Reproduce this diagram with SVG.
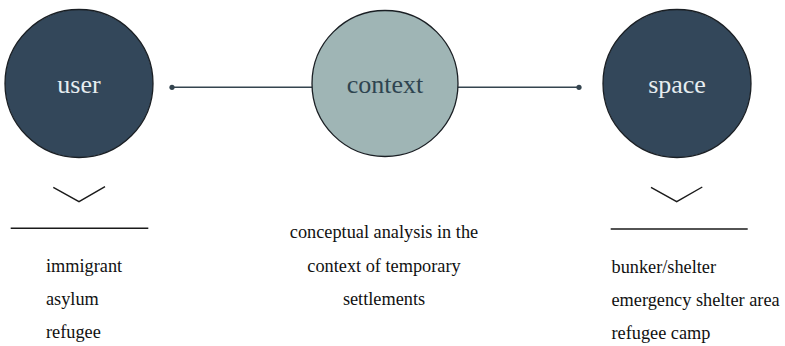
<svg xmlns="http://www.w3.org/2000/svg" width="785" height="346" viewBox="0 0 785 346">
<style>
.node{stroke:#1a1f24;stroke-width:1.3}
.dark{fill:#33475a}
.light{fill:#9fb5b5}
.lbl{font-family:"Liberation Serif","Times New Roman",serif;font-size:26px;text-anchor:middle}
.lbl-l{fill:#e6edf0}
.lbl-d{fill:#2e4450}
.conn{stroke:#34444f;stroke-width:1.6;fill:none}
.dot{fill:#34444f}
.chev{stroke:#1a1a1a;stroke-width:1.4;fill:none}
.rule{stroke:#1a1a1a;stroke-width:1.6}
.txt{font-family:"Liberation Serif","Times New Roman",serif;font-size:18.3px;fill:#111}
</style>
<rect width="785" height="346" fill="#ffffff"/>
<g id="connectors">
<line class="conn" x1="172" y1="87.3" x2="312" y2="87.3"/>
<circle class="dot" cx="172" cy="87.3" r="2.6"/>
<line class="conn" x1="458" y1="87.3" x2="579" y2="87.3"/>
<circle class="dot" cx="579" cy="87.3" r="2.6"/>
</g>
<g id="user">
<circle class="node dark" cx="79" cy="83.5" r="74"/>
<text class="lbl lbl-l" x="79" y="93">user</text>
</g>
<g id="context">
<circle class="node light" cx="385" cy="83.5" r="73"/>
<text class="lbl lbl-d" x="385" y="92.5">context</text>
</g>
<g id="space">
<circle class="node dark" cx="677" cy="83.5" r="74"/>
<text class="lbl lbl-l" x="677" y="92.5">space</text>
</g>
<g id="user-list">
<polyline class="chev" points="53.3,187.3 79,201.7 105,186.7"/>
<line class="rule" x1="10.7" y1="228.3" x2="148.3" y2="228.3"/>
<text class="txt" x="46" y="272">immigrant</text>
<text class="txt" x="46" y="305">asylum</text>
<text class="txt" x="46" y="338">refugee</text>
</g>
<g id="context-desc">
<text class="txt" x="384" y="237.5" text-anchor="middle">conceptual analysis in the</text>
<text class="txt" x="384" y="271.5" text-anchor="middle">context of temporary</text>
<text class="txt" x="384" y="304.5" text-anchor="middle">settlements</text>
</g>
<g id="space-list">
<polyline class="chev" points="651,187.3 676.7,201.7 702.3,187"/>
<line class="rule" x1="610.7" y1="229" x2="747.7" y2="229"/>
<text class="txt" x="611.5" y="273.3">bunker/shelter</text>
<text class="txt" x="611.5" y="306.3">emergency shelter area</text>
<text class="txt" x="611.5" y="339.3">refugee camp</text>
</g>
</svg>
